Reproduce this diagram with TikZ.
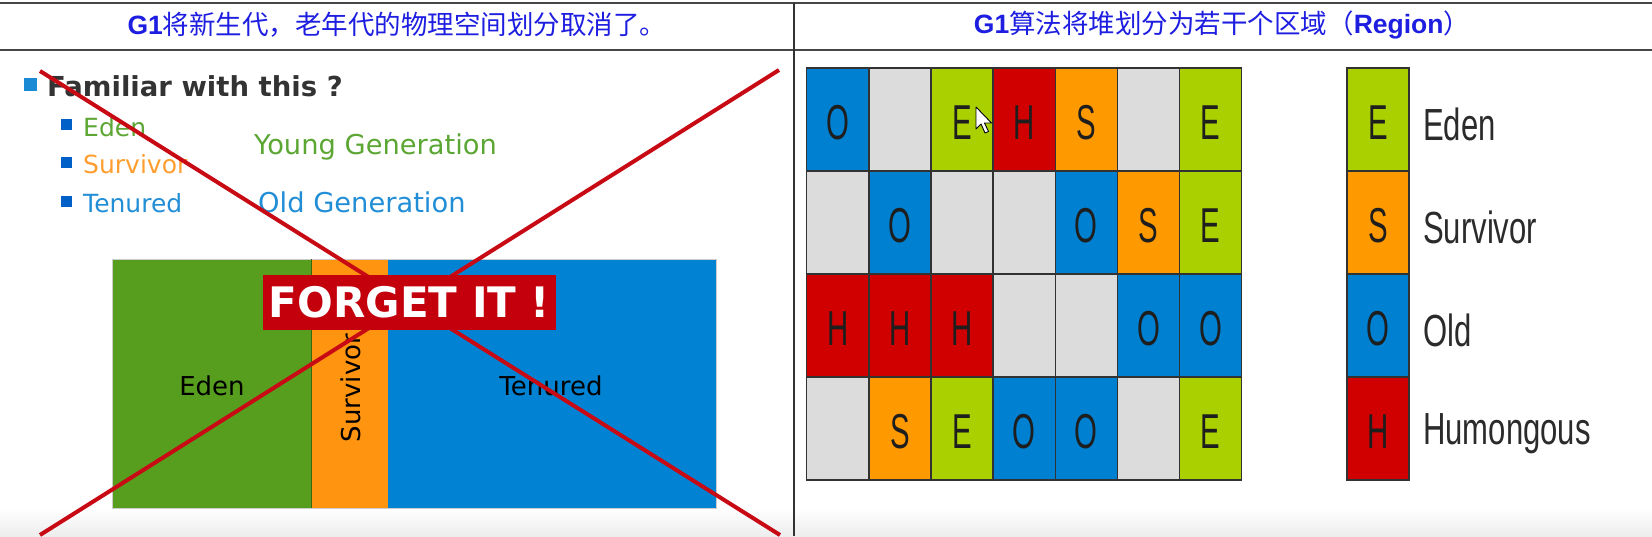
\documentclass[tikz,border=0pt]{standalone}
\usepackage{fontspec}
\newfontfamily\cjk{Noto Sans CJK SC}
\newfontfamily\lib{Liberation Sans}
\newfontfamily\dv{DejaVu Sans}
\definecolor{hblue}{RGB}{30,30,225}
\definecolor{hline}{RGB}{70,70,70}
\definecolor{tdark}{RGB}{51,51,51}
\definecolor{tgreen}{RGB}{92,166,52}
\definecolor{torange}{RGB}{255,158,48}
\definecolor{tblue}{RGB}{34,142,214}
\definecolor{bul1}{RGB}{26,138,212}
\definecolor{bul2}{RGB}{0,96,200}
\definecolor{edenL}{RGB}{87,157,30}
\definecolor{survL}{RGB}{255,148,16}
\definecolor{tenL}{RGB}{2,130,210}
\definecolor{xred}{RGB}{200,10,20}
\definecolor{fred}{RGB}{195,0,12}
\definecolor{cO}{RGB}{0,128,208}
\definecolor{cE}{RGB}{170,208,0}
\definecolor{cH}{RGB}{208,0,0}
\definecolor{cS}{RGB}{255,153,0}
\definecolor{cN}{RGB}{220,220,220}
\definecolor{gline}{RGB}{50,50,50}
\definecolor{ltxt}{RGB}{30,30,30}
\definecolor{lgtxt}{RGB}{43,43,43}
\def\txtO{O}\def\txtE{E}\def\txtH{H}\def\txtS{S}\def\txtN{}
\newcommand{\gletter}[1]{\lib\fontsize{49}{55}\selectfont\scalebox{0.6}[1]{#1}}
\begin{document}
\begin{tikzpicture}[x=1pt,y=-1pt,
  hdr/.style={inner sep=0pt, text=hblue, font=\cjk\fontsize{26.5}{30}\selectfont},
  bulletA/.style={fill=bul1, minimum size=13pt, inner sep=0pt},
  bulletB/.style={fill=bul2, minimum size=11pt, inner sep=0pt},
  item/.style={anchor=base west, inner sep=0pt, font=\dv\fontsize{25}{28}\selectfont},
  gen/.style={anchor=base west, inner sep=0pt, font=\dv\fontsize{27.3}{30}\selectfont},
  boxlabel/.style={inner sep=0pt, text=black, font=\dv\fontsize{26}{30}\selectfont},
  cell/.style={draw=gline, line width=1.4pt, minimum width=62.14pt, minimum height=103pt, inner sep=0pt, outer sep=0pt, text=ltxt},
  legtxt/.style={anchor=west, inner sep=0pt, text=lgtxt, font=\lib\fontsize{45}{50}\selectfont},
  crossline/.style={draw=xred, line width=4pt}
]
\useasboundingbox (0,0) rectangle (1652,536);
% bottom shade
\shade[top color=white, bottom color=black!7] (0,508) rectangle (1652,536);
% header
\draw[hline, line width=2pt] (0,3) -- (1652,3);
\draw[hline, line width=2pt] (0,50) -- (1652,50);
\draw[gline, line width=1.3pt] (794,3) -- (794,536);
\node[hdr] (h1) at (397,25) {{\lib\bfseries G1}将新生代，老年代的物理空间划分取消了。};
\node[hdr] (h2) at (1222,25) {{\lib\bfseries G1}算法将堆划分为若干个区域（{\lib\bfseries Region}）};

% left panel text
\node[bulletA] (b0) at (30.5,84) {};
\node[anchor=base west, inner sep=0pt, text=tdark, font=\dv\bfseries\fontsize{27.5}{30}\selectfont] (fam) at (47,96) {Familiar with this ?};
\node[bulletB] (b1) at (66,124.5) {};
\node[bulletB] (b2) at (66,162) {};
\node[bulletB] (b3) at (66,201) {};
\node[item, text=tgreen] (i1) at (83,136) {Eden};
\node[item, text=torange] (i2) at (83,173) {Survivor};
\node[item, text=tblue] (i3) at (83,212) {Tenured};
\node[gen, text=tgreen] (yg) at (254,154) {Young Generation};
\node[gen, text=tblue] (og) at (258,212) {Old Generation};

% heap box
\fill[edenL] (112,259) rectangle (311,508);
\fill[survL] (311,259) rectangle (388,508);
\fill[tenL] (388,259) rectangle (716,508);
\draw[black!20, line width=0.8pt] (112,259) rectangle (716,508);
\draw[black!35!edenL, line width=0.8pt] (311,259) -- (311,508);
\node[boxlabel] (le) at (212,386) {Eden};
\node[boxlabel, rotate=90] (ls) at (351,388) {Survivor};
\node[boxlabel] (lt) at (551,386) {Tenured};

% cross
\coordinate (x1a) at (40,71);
\coordinate (x1b) at (780,535);
\coordinate (x2a) at (40,535);
\coordinate (x2b) at (779,70);
\draw[crossline] (x1a) -- (x1b);
\draw[crossline] (x2a) -- (x2b);

% banner
\node[fill=fred, minimum width=293pt, minimum height=55pt, inner sep=0pt, text=white, font=\dv\bfseries\fontsize{42}{46}\selectfont] (forget) at (409.5,302.5) {FORGET IT !};

% region grid
\foreach \row [count=\r from 0] in {{O,N,E,H,S,N,E},{N,O,N,N,O,S,E},{H,H,H,N,N,O,O},{N,S,E,O,O,N,E}} {
  \foreach \t [count=\c from 0] in \row {
    \node[cell, fill=c\t] (g\r\c) at ({806.7+(\c+0.5)*62.14},{68+(\r+0.5)*103}) {};
    \node[inner sep=0pt, text=ltxt] (t\r\c) at ({806.7+(\c+0.5)*62.14},{71+(\r+0.5)*103}) {\gletter{\csname txt\t\endcsname}};
  }
}

% legend
\foreach \t/\lab [count=\r from 0] in {E/Eden,S/Survivor,O/Old,H/Humongous} {
  \node[cell, minimum width=62pt, fill=c\t] (k\r) at (1378,{68+(\r+0.5)*103}) {};
  \node[inner sep=0pt, text=ltxt] (kt\r) at (1378,{71+(\r+0.5)*103}) {\gletter{\t}};
  \node[legtxt] (kl\r) at (1423,{73+(\r+0.5)*103}) {\scalebox{0.69}[1]{\lab}};
}

% mouse cursor
\draw[black, fill=white, line width=0.9pt, line join=round]
  (976,107) -- ++(0,22) -- ++(5,-5) -- ++(4,9) -- ++(3.5,-1.5) -- ++(-4,-8.5) -- ++(7,0) -- cycle;
\end{tikzpicture}
\end{document}
